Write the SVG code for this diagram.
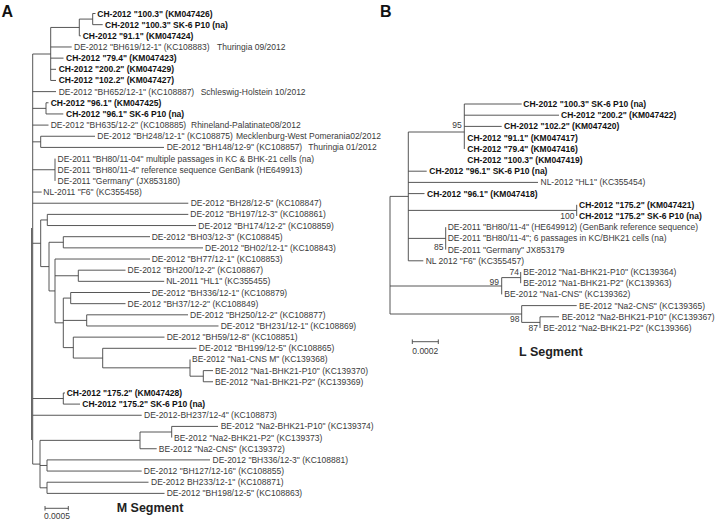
<svg xmlns="http://www.w3.org/2000/svg" width="715" height="521" viewBox="0 0 715 521">
<style>
text{font-family:"Liberation Sans",Arial,sans-serif;font-size:8.5px;fill:#3a3a3a}
.b{font-weight:bold;fill:#111}
.h{font-weight:bold;fill:#111;font-size:16px}
.s{font-weight:bold;fill:#222;font-size:12.5px}
.n{text-anchor:end}
.c{text-anchor:middle}
#connectors path{fill:none;stroke:#444;stroke-width:0.9}
</style>
<rect width="715" height="521" fill="#fff"/>
<g id="connectors">
<path d="M32.7 54V464.1M31.6 228V440M32.7 54H50.7M32.7 91.62H56M32.7 108.36H46M32.7 125.1H48.5M32.7 141.84H40.7M32.7 169.74H55M32.7 192.06H41.7M32.7 203.22H188.3M32.7 243.28H40.7M32.7 398.52H63.3M32.7 415.26H141.7M32.7 464.1H40"/>
<path d="M50.7 27.45V80.46M50.7 46.98H71.7M50.7 58.14H63.5M50.7 69.3H56M50.7 80.46H56M50.7 27.45H79.3M79.3 19.08V35.82M79.3 35.82H80.8M79.3 19.08H92.7M92.7 13.5V24.66M92.7 13.5H95.5M92.7 24.66H102.7"/>
<path d="M46 102.78V113.94M46 102.78H48.5M46 113.94H63.3M40.7 136.26V147.42M40.7 136.26H95M40.7 147.42H164M55 158.58V180.9"/>
<path d="M40.7 219.96V266.6M40.7 219.96H47.3M40.7 266.6H49M47.3 214.38V225.54M47.3 214.38H188.3M47.3 225.54H196M49 242.28V290.93M49 242.28H63.3M49 290.93H55M63.3 236.7V247.86M63.3 236.7H150M63.3 247.86H203"/>
<path d="M55 259.02V322.84M55 259.02H150M55 275.76H78.3M55 322.84H63.3M78.3 270.18V281.34M78.3 270.18H125.5M78.3 281.34H164.2"/>
<path d="M63.3 298.08V347.6M63.3 298.08H70.7M63.3 320.4H86.7M63.3 347.6H73.3M70.7 292.5V303.66M70.7 292.5H150M70.7 303.66H125.5M86.7 314.82V325.98M86.7 314.82H188M86.7 325.98H218.5"/>
<path d="M73.3 337.14V358.07M73.3 337.14H164.5M73.3 358.07H102.7M102.7 348.3V367.83M102.7 348.3H196.5M102.7 367.83H190M190 359.46V376.2M190 376.2H203.3M203.3 370.62V381.78M203.3 370.62H213M203.3 381.78H213"/>
<path d="M63.3 392.94V404.1M63.3 392.94H65M63.3 404.1H80"/>
<path d="M40 440.37V487.8M40 440.37H140M40 465.48H47M40 487.8H47M140 432V448.74M140 432H171.7M140 448.74H156.7M171.7 426.42V437.58M171.7 426.42H218M47 459.9V471.06M47 459.9H210M47 471.06H141.7M47 482.22V493.38M47 482.22H148.5M47 493.38H164.5"/>
<path d="M45 508.3H68.3M45 506V510.6M68.3 506V510.6"/>
<path d="M390 196.4V314M390 196.4H408.3M390 286H501.7M390 314H521.7"/>
<path d="M408.3 132V260.8M408.3 132H464.3M408.3 171.2H426.7M408.3 182.4H538M408.3 193.6H424.5M408.3 210.4H576.7M408.3 238.4H445.7M408.3 260.8H423.3"/>
<path d="M464.3 104V149M464.3 104H521.7M464.3 115.2H559M464.3 126.4H501.7M576.7 204.8V216M445.7 227.2V249.6"/>
<path d="M501.7 277.6V294.4M501.7 277.6H520.7M520.7 272V283.2M521.7 305.6V322.4M521.7 305.6H576.7M521.7 322.4H540M540 316.8V328M540 316.8H559"/>
<path d="M412.3 341.7H438.3M412.3 339.4V344M438.3 339.4V344"/>
</g>
<g id="panel-labels">
<text class="h" x="1.5" y="16.5">A</text>
<text class="h" x="380" y="16.8">B</text>
</g>
<g id="a-leaves">
<g id="a1"><text class="b" x="97.3" y="16.5">CH-2012 "100.3" (KM047426)</text></g>
<g id="a2"><text class="b" x="105" y="27.66">CH-2012 "100.3" SK-6 P10 (na)</text></g>
<g id="a3"><text class="b" x="82.7" y="38.82">CH-2012 "91.1" (KM047424)</text></g>
<g id="a4"><text x="74" y="49.98">DE-2012 "BH619/12-1" (KC108883)</text><text x="217" y="49.98">Thuringia 09/2012</text></g>
<g id="a5"><text class="b" x="66" y="61.14">CH-2012 "79.4" (KM047423)</text></g>
<g id="a6"><text class="b" x="58.7" y="72.3">CH-2012 "200.2" (KM047429)</text></g>
<g id="a7"><text class="b" x="58.7" y="83.46">CH-2012 "102.2" (KM047427)</text></g>
<g id="a8"><text x="58.7" y="94.62">DE-2012 "BH652/12-1" (KC108887)</text><text x="200.7" y="94.62">Schleswig-Holstein 10/2012</text></g>
<g id="a9"><text class="b" x="50.7" y="105.78">CH-2012 "96.1" (KM047425)</text></g>
<g id="a10"><text class="b" x="66" y="116.94">CH-2012 "96.1" SK-6 P10 (na)</text></g>
<g id="a11"><text x="50.7" y="128.1">DE-2012 "BH635/12-2" (KC108885)</text><text x="191" y="128.1">Rhineland-Palatinate08/2012</text></g>
<g id="a12"><text x="97.3" y="139.26">DE-2012 "BH248/12-1" (KC108875)</text><text x="236" y="139.26">Mecklenburg-West Pomerania02/2012</text></g>
<g id="a13"><text x="166.7" y="150.42">DE-2012 "BH148/12-9" (KC108857)</text><text x="308.3" y="150.42">Thuringia 01/2012</text></g>
<g id="a14"><text x="57.5" y="161.58">DE-2011 "BH80/11-04" multiple passages in KC &amp; BHK-21 cells (na)</text></g>
<g id="a15"><text x="57.5" y="172.74">DE-2011 "BH80/11-4" reference sequence GenBank (HE649913)</text></g>
<g id="a16"><text x="57.5" y="183.9">DE-2011 "Germany" (JX853180)</text></g>
<g id="a17"><text x="43.3" y="195.06">NL-2011 "F6" (KC355458)</text></g>
<g id="a18"><text x="190.7" y="206.22">DE-2012 "BH28/12-5" (KC108847)</text></g>
<g id="a19"><text x="190.3" y="217.38">DE-2012 "BH197/12-3" (KC108861)</text></g>
<g id="a20"><text x="198.3" y="228.54">DE-2012 "BH174/12-2" (KC108859)</text></g>
<g id="a21"><text x="151.7" y="239.7">DE-2012 "BH03/12-3" (KC108845)</text></g>
<g id="a22"><text x="205" y="250.86">DE-2012 "BH02/12-1" (KC108843)</text></g>
<g id="a23"><text x="151.7" y="262.02">DE-2012 "BH77/12-1" (KC108853)</text></g>
<g id="a24"><text x="127.5" y="273.18">DE-2012 "BH200/12-2" (KC108867)</text></g>
<g id="a25"><text x="166.2" y="284.34">NL-2011 "HL1" (KC355455)</text></g>
<g id="a26"><text x="151.7" y="295.5">DE-2012 "BH336/12-1" (KC108879)</text></g>
<g id="a27"><text x="127.5" y="306.66">DE-2012 "BH37/12-2" (KC108849)</text></g>
<g id="a28"><text x="190" y="317.82">DE-2012 "BH250/12-2" (KC108877)</text></g>
<g id="a29"><text x="220.7" y="328.98">DE-2012 "BH231/12-1" (KC108869)</text></g>
<g id="a30"><text x="166.7" y="340.14">DE-2012 "BH59/12-8" (KC108851)</text></g>
<g id="a31"><text x="198.8" y="351.3">DE-2012 "BH199/12-5" (KC108865)</text></g>
<g id="a32"><text x="192" y="362.46">BE-2012 "Na1-CNS M" (KC139368)</text></g>
<g id="a33"><text x="215" y="373.62">BE-2012 "Na1-BHK21-P10" (KC139370)</text></g>
<g id="a34"><text x="215" y="384.78">BE-2012 "Na1-BHK21-P2" (KC139369)</text></g>
<g id="a35"><text class="b" x="66.7" y="395.94">CH-2012 "175.2" (KM047428)</text></g>
<g id="a36"><text class="b" x="82.3" y="407.1">CH-2012 "175.2" SK-6 P10 (na)</text></g>
<g id="a37"><text x="144" y="418.26">DE-2012-BH237/12-4" (KC108873)</text></g>
<g id="a38"><text x="220.7" y="429.42">BE-2012 "Na2-BHK21-P10" (KC139374)</text></g>
<g id="a39"><text x="174" y="440.58">BE-2012 "Na2-BHK21-P2" (KC139373)</text></g>
<g id="a40"><text x="158.8" y="451.74">BE-2012 "Na2-CNS" (KC139372)</text></g>
<g id="a41"><text x="212.5" y="462.9">DE-2012 "BH336/12-3" (KC108881)</text></g>
<g id="a42"><text x="143.8" y="474.06">DE-2012 "BH127/12-16" (KC108855)</text></g>
<g id="a43"><text x="151" y="485.22">DE-2012 BH233/12-1" (KC108871)</text></g>
<g id="a44"><text x="166.7" y="496.38">DE-2012 "BH198/12-5" (KC108863)</text></g>
</g>
<g id="a-scale"><text class="c" x="57" y="518.5">0.0005</text><text class="s" x="116.7" y="512.2">M Segment</text></g>
<g id="b-leaves">
<g id="b1"><text class="b" x="523.3" y="107">CH-2012 "100.3" SK-6 P10 (na)</text></g>
<g id="b2"><text class="b" x="561" y="118.2">CH-2012 "200.2" (KM047422)</text></g>
<g id="b3"><text class="b" x="504" y="129.4">CH-2012 "102.2" (KM047420)</text></g>
<g id="b4"><text class="b" x="467.3" y="140.6">CH-2012 "91.1" (KM047417)</text></g>
<g id="b5"><text class="b" x="467.3" y="151.8">CH-2012 "79.4" (KM047416)</text></g>
<g id="b6"><text class="b" x="467.3" y="163">CH-2012 "100.3" (KM047419)</text></g>
<g id="b7"><text class="b" x="429.3" y="174.2">CH-2012 "96.1" SK-6 P10 (na)</text></g>
<g id="b8"><text x="540.5" y="185.4">NL-2012 "HL1" (KC355454)</text></g>
<g id="b9"><text class="b" x="427" y="196.6">CH-2012 "96.1" (KM047418)</text></g>
<g id="b10"><text class="b" x="579" y="207.8">CH-2012 "175.2" (KM047421)</text></g>
<g id="b11"><text class="b" x="579" y="219">CH-2012 "175.2" SK-6 P10 (na)</text></g>
<g id="b12"><text x="447.7" y="230.2">DE-2011 "BH80/11-4" (HE649912) (GenBank reference sequence)</text></g>
<g id="b13"><text x="447.7" y="241.4">DE-2011 "BH80/11-4"; 6 passages in KC/BHK21 cells (na)</text></g>
<g id="b14"><text x="447.7" y="252.6">DE-2011 "Germany" JX853179</text></g>
<g id="b15"><text x="425.7" y="263.8">NL 2012 "F6" (KC355457)</text></g>
<g id="b16"><text x="523.3" y="275">BE-2012 "Na1-BHK21-P10" (KC139364)</text></g>
<g id="b17"><text x="523.3" y="286.2">BE-2012 "Na1-BHK21-P2" (KC139363)</text></g>
<g id="b18"><text x="504.3" y="297.4">BE-2012 "Na1-CNS" (KC139362)</text></g>
<g id="b19"><text x="579" y="308.6">BE-2012 "Na2-CNS" (KC139365)</text></g>
<g id="b20"><text x="561.7" y="319.8">BE-2012 "Na2-BHK21-P10" (KC139367)</text></g>
<g id="b21"><text x="543.3" y="331">BE-2012 "Na2-BHK21-P2" (KC139366)</text></g>
</g>
<g id="b-support">
<g id="s95"><text class="n" x="461.8" y="128.3">95</text></g>
<g id="s100"><text class="n" x="574.5" y="219">100</text></g>
<g id="s85"><text class="n" x="443.5" y="250.3">85</text></g>
<g id="s74"><text class="n" x="519" y="274.6">74</text></g>
<g id="s99"><text class="n" x="499" y="284.6">99</text></g>
<g id="s98"><text class="n" x="519.5" y="322.2">98</text></g>
<g id="s87"><text class="n" x="538" y="331.2">87</text></g>
</g>
<g id="b-scale"><text class="c" x="425.3" y="353.5">0.0002</text><text class="s" x="519" y="356">L Segment</text></g>
</svg>
